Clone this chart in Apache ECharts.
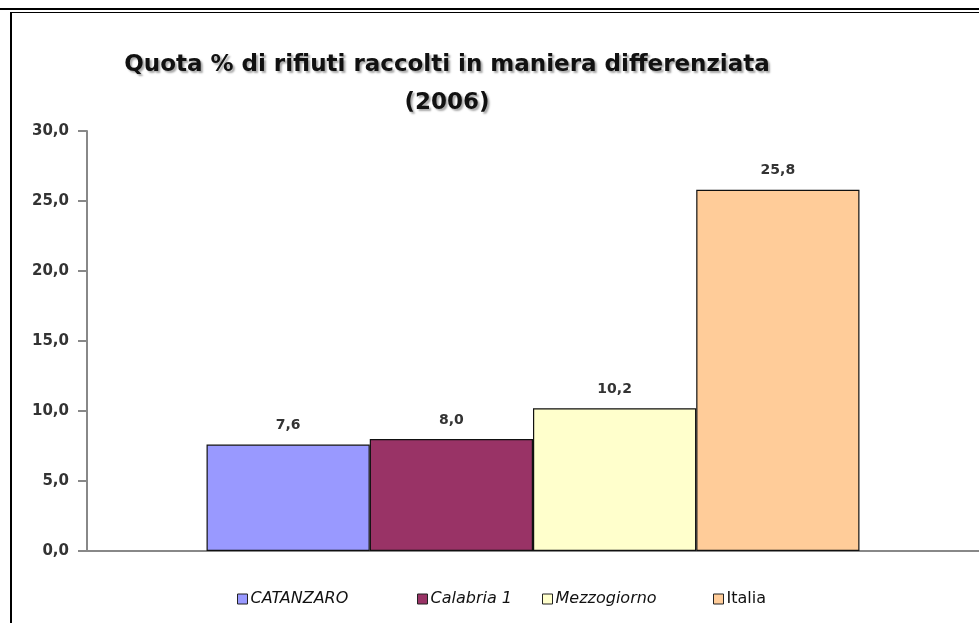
<!DOCTYPE html>
<html>
<head>
<meta charset="utf-8">
<script src="https://cdn.jsdelivr.net/npm/echarts@6/dist/echarts.min.js"></script>
<style>
  html, body { margin: 0; padding: 0; background: #fff; }
  #chart { width: 979px; height: 623px; }
</style>
</head>
<body>
<div id="chart"></div>
<script>
const seriesNames = ['CATANZARO', 'Calabria 1', 'Mezzogiorno', 'Italia'];
const values = [7.6, 8.0, 10.2, 25.8];
const colors = ['#9999ff', '#993366', '#ffffcc', '#ffcc99'];
const category = ['2006'];
// posizione orizzontale di ogni voce della legenda
const legendLeft = [232, 412, 537, 708];

// virgola come separatore decimale
const fmt = v => v.toFixed(1).replace('.', ',');

const myChart = echarts.init(document.getElementById('chart'));

const series = seriesNames.map((name, i) => ({
  name,
  type: 'bar',
  data: [values[i]],
  barGap: '0%',
  barCategoryGap: '26.8%',
  itemStyle: { color: colors[i], borderColor: '#111', borderWidth: 1.2 },
  label: {
    show: true,
    position: 'top',
    distance: 12,
    formatter: d => fmt(d.value),
    color: '#333',
    fontFamily: 'DejaVu Sans',
    fontWeight: 'bold',
    fontSize: 14
  }
}));

const legends = seriesNames.map((name, i) => ({
  left: legendLeft[i],
  top: 586,
  itemWidth: 10,
  itemHeight: 10,
  itemGap: 0,
  icon: 'rect',
  itemStyle: { borderColor: '#222', borderWidth: 1 },
  textStyle: {
    fontFamily: 'DejaVu Sans',
    fontStyle: i === 3 ? 'normal' : 'italic',
    fontSize: 16,
    color: '#111',
    padding: [0, 0, 0, -2]
  },
  data: [name]
}));

const option = {
  animation: false,
  backgroundColor: '#fff',
  title: {
    text: 'Quota % di rifiuti raccolti in maniera differenziata\n(2006)',
    left: 442,
    top: 41,
    textAlign: 'center',
    textStyle: {
      fontFamily: 'DejaVu Sans',
      fontWeight: 'bold',
      fontSize: 23,
      lineHeight: 38,
      color: '#111',
      textShadowColor: 'rgba(0,0,0,0.35)',
      textShadowOffsetX: 2,
      textShadowOffsetY: 2,
      textShadowBlur: 2
    }
  },
  legend: legends,
  grid: { left: 87, right: 0, top: 131, bottom: 72 },
  xAxis: {
    type: 'category',
    data: category,
    axisLine: { lineStyle: { color: '#888', width: 2 } },
    axisTick: { show: false },
    axisLabel: { show: false }
  },
  yAxis: {
    type: 'value',
    min: 0,
    max: 30,
    interval: 5,
    axisLine: { show: true, lineStyle: { color: '#888', width: 2 } },
    axisTick: { show: true, length: 9, lineStyle: { color: '#888', width: 2 } },
    splitLine: { show: false },
    axisLabel: {
      formatter: v => fmt(v),
      margin: 18,
      color: '#333',
      fontFamily: 'DejaVu Sans',
      fontWeight: 'bold',
      fontSize: 15
    }
  },
  graphic: [
    { type: 'rect', shape: { x: 0, y: 8, width: 979, height: 2 }, style: { fill: '#000' } },
    { type: 'rect', shape: { x: 10, y: 12, width: 969, height: 1 }, style: { fill: '#000' } },
    { type: 'rect', shape: { x: 10, y: 12, width: 2, height: 611 }, style: { fill: '#000' } }
  ],
  series
};

option && myChart.setOption(option);
</script>
</body>
</html>
